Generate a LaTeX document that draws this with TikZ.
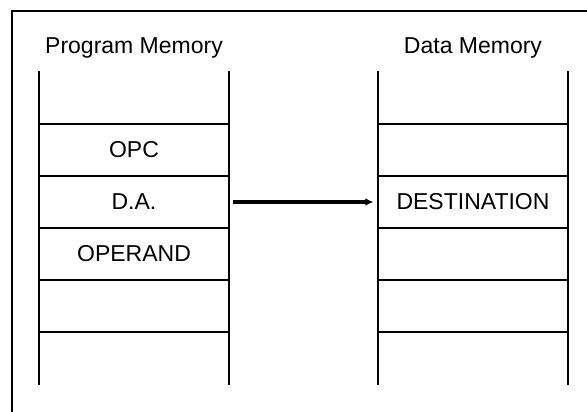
\documentclass[tikz,border=0pt]{standalone}
\usepackage{fontspec}
\setmainfont{Liberation Sans}
\usepackage{tikz}
\usetikzlibrary{arrows.meta}

\tikzset{
  cell/.style={minimum width=189pt, minimum height=52pt, inner sep=0pt},
  wall/.style={line width=1.6pt},
}

\begin{document}
\begin{tikzpicture}[x=1pt, y=-1pt, font=\fontsize{23}{27}\selectfont]
\useasboundingbox (0,0) rectangle (587,412);

% outer frame
\draw[line width=2pt] (12,412) -- (12,11) -- (587,11);

% titles
\node (pm) at (134,48) {Program Memory};
\node (dm) at (473,48) {Data Memory};

% memory columns
\draw[wall] (39,71) -- (39,385);
\draw[wall] (229,71) -- (229,385);
\draw[wall] (378,71) -- (378,385);
\draw[wall] (568,71) -- (568,385);
\foreach \y in {124,176,228,280,332} {
  \draw[wall] (39,\y) -- (229,\y);
  \draw[wall] (378,\y) -- (568,\y);
}

% cells
\node[cell] (opc) at (134,150) {OPC};
\node[cell] (da) at (134,202) {D.A.};
\node[cell] (opd) at (134,254) {OPERAND};
\node[cell] (dest) at (473,202) {DESTINATION};

\draw[line width=3.2pt, -{Latex[length=8pt, width=8pt]}, shorten <=4pt, shorten >=5pt] (da.east) -- (dest.west);
\end{tikzpicture}
\end{document}
